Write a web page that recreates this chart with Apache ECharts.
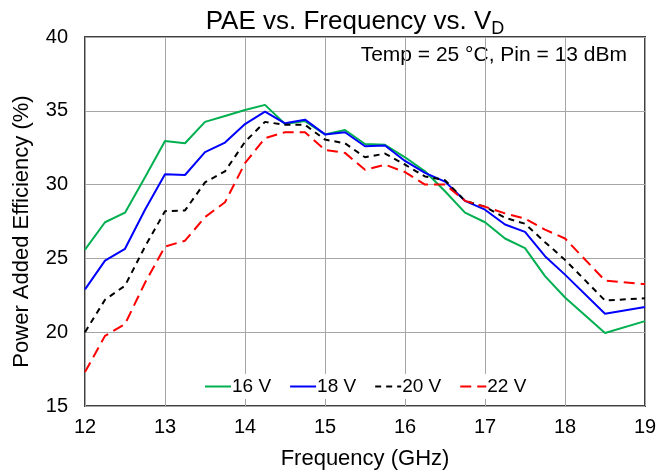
<!DOCTYPE html>
<html>
<head>
<meta charset="utf-8">
<script src="https://cdn.jsdelivr.net/npm/echarts@6/dist/echarts.min.js"></script>
<style>
  html, body { margin: 0; padding: 0; background: #fff; }
  #chart { width: 670px; height: 475px; }
</style>
</head>
<body>
<div id="chart"></div>
<script>
  // frequency points (GHz)
  var freq = [12, 12.25, 12.5, 12.75, 13, 13.25, 13.5, 13.75, 14, 14.25, 14.5, 14.75, 15, 15.25, 15.5,
              15.75, 16, 16.25, 16.5, 16.75, 17, 17.25, 17.5, 17.75, 18, 18.5, 19];
  // PAE (%) per drain voltage
  var pae16 = [25.6, 27.45, 28.1, 30.5, 32.95, 32.8, 34.25, 34.65, 35.05, 35.4, 34.1, 34.3, 33.4, 33.7, 32.75,
               32.7, 31.85, 30.9, 29.55, 28.1, 27.45, 26.35, 25.7, 23.8, 22.35, 19.95, 20.75];
  var pae18 = [22.9, 24.85, 25.65, 28.3, 30.7, 30.65, 32.2, 32.85, 34.1, 34.95, 34.15, 34.4, 33.4, 33.55, 32.6,
               32.65, 31.6, 30.8, 30.2, 28.9, 28.3, 27.3, 26.8, 25.15, 23.9, 21.25, 21.7];
  var pae20 = [20.0, 22.2, 23.15, 25.8, 28.2, 28.25, 30.15, 30.9, 32.9, 34.25, 34.05, 34.05, 33.05, 32.8, 31.85,
               32.1, 31.35, 30.55, 30.3, 28.9, 28.5, 27.75, 27.35, 26.1, 24.9, 22.15, 22.3];
  var pae22 = [17.3, 19.75, 20.55, 23.35, 25.8, 26.2, 27.8, 28.8, 31.45, 33.15, 33.55, 33.55, 32.35, 32.15, 31.0,
               31.35, 30.85, 30.0, 30.0, 28.9, 28.5, 28.05, 27.7, 26.95, 26.35, 23.5, 23.25];
  var seriesNames = ['16 V', '18 V', '20 V', '22 V'];

  function pairs(ys) {
    var out = [];
    for (var i = 0; i < freq.length; i++) {
      out.push([freq[i], ys[i]]);
    }
    return out;
  }

  var font = 'Liberation Sans, Arial, sans-serif';
  var myChart = echarts.init(document.getElementById('chart'));

  var option = {
    animation: false,
    backgroundColor: '#fff',
    title: {
      text: '{a|PAE vs. Frequency vs. V}{b|D}',
      left: 350,
      textAlign: 'center',
      top: 1,
      textStyle: {
        fontFamily: font,
        fontWeight: 'normal',
        rich: {
          a: { fontFamily: font, fontSize: 26, color: '#000', fontWeight: 'normal' },
          b: { fontFamily: font, fontSize: 18, color: '#000', fontWeight: 'normal', padding: [14, 0, 0, 0] }
        }
      }
    },
    grid: {
      left: 85, right: 25, top: 37, bottom: 68,
      show: true,
      borderColor: '#404040',
      borderWidth: 2,
      backgroundColor: 'transparent'
    },
    legend: {
      data: seriesNames,
      bottom: 76,
      left: 201,
      itemWidth: 26,
      itemHeight: 10,
      itemGap: 18,
      backgroundColor: '#fff',
      padding: [3, 3],
      itemStyle: { opacity: 0 },
      textStyle: { fontFamily: font, fontSize: 19, color: '#000', padding: [0, 0, 0, -4] }
    },
    xAxis: {
      type: 'value',
      min: 12, max: 19, interval: 1,
      name: 'Frequency (GHz)',
      nameLocation: 'middle',
      nameGap: 42,
      nameTextStyle: { fontFamily: font, fontSize: 22, color: '#000' },
      axisLine: { show: false },
      axisTick: { show: false },
      axisLabel: { fontFamily: font, fontSize: 20, color: '#000', margin: 11 },
      splitLine: { show: true, lineStyle: { color: '#a6a6a6', width: 1 } }
    },
    yAxis: {
      type: 'value',
      min: 15, max: 40, interval: 5,
      name: 'Power Added Efficiency (%)',
      nameLocation: 'middle',
      nameGap: 52,
      nameTextStyle: { fontFamily: font, fontSize: 22, color: '#000', padding: [0, 20, 0, 0] },
      axisLine: { show: false },
      axisTick: { show: false },
      axisLabel: { fontFamily: font, fontSize: 20, color: '#000', margin: 17 },
      splitLine: { show: true, lineStyle: { color: '#a6a6a6', width: 1 } }
    },
    graphic: [{
      type: 'text',
      right: 43,
      top: 45,
      style: {
        text: 'Temp = 25 \u00b0C, Pin = 13 dBm',
        fontFamily: font,
        fontSize: 21,
        fill: '#000'
      }
    }],
    series: [
      {
        name: '16 V', type: 'line', data: pairs(pae16), symbol: 'none',
        lineStyle: { color: '#00b050', width: 2 }, itemStyle: { color: '#00b050' }
      },
      {
        name: '18 V', type: 'line', data: pairs(pae18), symbol: 'none',
        lineStyle: { color: '#0000ff', width: 2 }, itemStyle: { color: '#0000ff' }
      },
      {
        name: '20 V', type: 'line', data: pairs(pae20), symbol: 'none',
        lineStyle: { color: '#000', width: 2, type: [6, 5] }, itemStyle: { color: '#000' }
      },
      {
        name: '22 V', type: 'line', data: pairs(pae22), symbol: 'none',
        lineStyle: { color: '#ff0000', width: 2, type: [11, 6] }, itemStyle: { color: '#ff0000' }
      }
    ]
  };

  myChart.setOption(option);
</script>
</body>
</html>
